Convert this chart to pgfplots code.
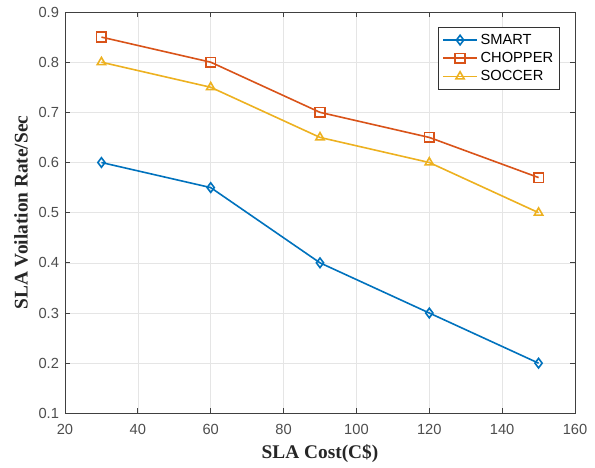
\documentclass[border=0pt]{standalone}
\usepackage{fontspec}
\setmainfont{Liberation Sans}
\newfontfamily\labelfont{Liberation Serif}
\usepackage{pgfplots}
\pgfplotsset{compat=1.18}
\definecolor{mblue}{HTML}{0072BD}
\definecolor{morange}{HTML}{D95319}
\definecolor{myellow}{HTML}{EDB120}
\definecolor{axgray}{HTML}{404040}
\definecolor{tickgray}{HTML}{4D4D4D}
\begin{document}
\begin{tikzpicture}
\begin{axis}[
    scale only axis,
    width=382.5pt, height=301pt,
    xmin=20, xmax=160, ymin=0.1, ymax=0.9,
    xtick={20,40,...,160},
    ytick={0.1,0.2,...,0.9},
    yticklabel style={/pgf/number format/fixed,/pgf/number format/precision=1, xshift=-1pt},
    xticklabel style={yshift=-4.5pt},
    /pgf/number format/assume math mode=true,
    tick label style={font=\fontsize{11}{13}\selectfont, text=tickgray},
    tick align=inside,
    major tick length=4pt,
    axis line style={axgray, line width=0.6pt},
    tick style={axgray, line width=0.6pt},
    grid=major,
    grid style={gray!20, line width=0.5pt},
    xlabel={\labelfont\bfseries SLA Cost(C\$)},
    ylabel={\labelfont\bfseries SLA Voilation Rate/Sec},
    label style={font=\fontsize{14.5}{16}\selectfont, text=black!85},
    xlabel style={at={(axis description cs:0.5,-0.1013)}, anchor=center},
    ylabel style={at={(axis description cs:-0.0863,0.5)}, anchor=center},
    legend style={font=\fontsize{11}{13}\selectfont, at={(0.971,0.963)}, anchor=north east, draw=black!80, line width=0.6pt, inner sep=3pt, row sep=0.5pt},
    legend cell align=left,
    legend image code/.code={\draw[mark repeat=2,mark phase=2] plot coordinates {(0cm,0cm) (0.45cm,0cm) (0.9cm,0cm)};},
    every axis plot/.append style={line width=1.2pt, mark size=3.6pt, mark options={solid, fill=white}},
]
\addplot[color=mblue, mark=diamond] coordinates {(30,0.6) (60,0.55) (90,0.4) (120,0.3) (150,0.2)};
\addlegendentry{SMART}
\addplot[color=morange, mark=square] coordinates {(30,0.85) (60,0.8) (90,0.7) (120,0.65) (150,0.57)};
\addlegendentry{CHOPPER}
\addplot[color=myellow, mark=triangle] coordinates {(30,0.8) (60,0.75) (90,0.65) (120,0.6) (150,0.5)};
\addlegendentry{SOCCER}
\end{axis}
\path (-48.75pt,-40.5pt) rectangle (397.5pt,310pt);
\end{tikzpicture}
\end{document}
